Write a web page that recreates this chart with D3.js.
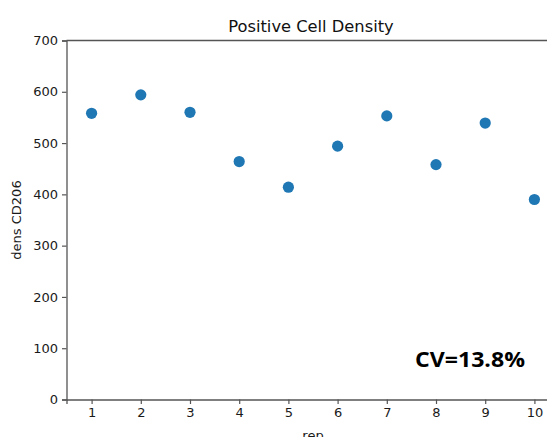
<!DOCTYPE html>
<html>
  <head>
    <meta charset="UTF-8" />
    <script src="https://cdnjs.cloudflare.com/ajax/libs/d3/7.8.5/d3.min.js"></script>
    <style>
      body { margin: 0; background: #fff; }
      text { font-family: "DejaVu Sans", sans-serif; fill: #1a1a1a; }
    </style>
  </head>
  <body>
    <svg id="chart" width="547" height="437"></svg>
    <script>
      const reps = [1, 2, 3, 4, 5, 6, 7, 8, 9, 10];
      const density = [558, 594, 560, 464, 414, 494, 553, 458, 539, 390];
      const yTicks = [0, 100, 200, 300, 400, 500, 600, 700];
      const cvLabel = "CV=13.8%";

      const blue = "#1f77b4",
        axisColor = "#555";

      const svg = d3.select("#chart");
      const plotLeft = 66.5, plotRight = 559.5, plotTop = 40.5, plotBottom = 399.5;

      const xScale = d3.scaleLinear().domain([0.49, 10.51]).range([plotLeft, plotRight]);
      const yScale = d3.scaleLinear().domain([0, 700]).range([plotBottom, plotTop]);

      const xAxis = d3.axisBottom(xScale).tickValues(reps).tickSize(4.5).tickPadding(4);
      const yAxis = d3.axisLeft(yScale).tickValues(yTicks).tickSize(4.5).tickPadding(4);

      const xG = svg.append("g").attr("transform", `translate(0,${plotBottom})`).call(xAxis);
      const yG = svg.append("g").attr("transform", `translate(${plotLeft},0)`).call(yAxis);
      [xG, yG].forEach(g => {
        g.select(".domain").attr("stroke", axisColor).attr("stroke-width", 1.3);
        g.selectAll(".tick line").attr("stroke", axisColor).attr("stroke-width", 1.2);
        g.selectAll(".tick text")
          .attr("font-family", "DejaVu Sans")
          .attr("font-size", 13)
          .attr("fill", "#1a1a1a");
      });

      // top spine
      svg.append("line")
        .attr("x1", plotLeft).attr("x2", plotRight)
        .attr("y1", plotTop).attr("y2", plotTop)
        .attr("stroke", axisColor).attr("stroke-width", 1.3);

      // points
      svg.selectAll("circle.pt")
        .data(reps)
        .enter()
        .append("circle")
        .attr("class", "pt")
        .attr("r", 5.6)
        .attr("cx", d => xScale(d))
        .attr("cy", (d, i) => yScale(density[i]))
        .attr("fill", blue);

      svg.append("text")
        .attr("x", 311)
        .attr("y", 32)
        .attr("text-anchor", "middle")
        .attr("font-size", 16.3)
        .style("fill", "#111")
        .text("Positive Cell Density");

      svg.append("text")
        .attr("transform", `translate(21,${(plotTop + plotBottom) / 2}) rotate(-90)`)
        .attr("text-anchor", "middle")
        .attr("font-size", 13)
        .text("dens CD206");

      svg.append("text")
        .attr("x", xScale(5.5))
        .attr("y", 440)
        .attr("text-anchor", "middle")
        .attr("font-size", 13)
        .text("rep");

      svg.append("text")
        .attr("x", 415)
        .attr("y", 367)
        .attr("font-family", "Open Sans")
        .attr("font-weight", "bold")
        .attr("font-size", 22)
        .attr("textLength", 110)
        .attr("lengthAdjust", "spacingAndGlyphs")
        .style("font-family", "'Open Sans', sans-serif")
        .style("fill", "#000")
        .text(cvLabel);
    </script>
  </body>
</html>
